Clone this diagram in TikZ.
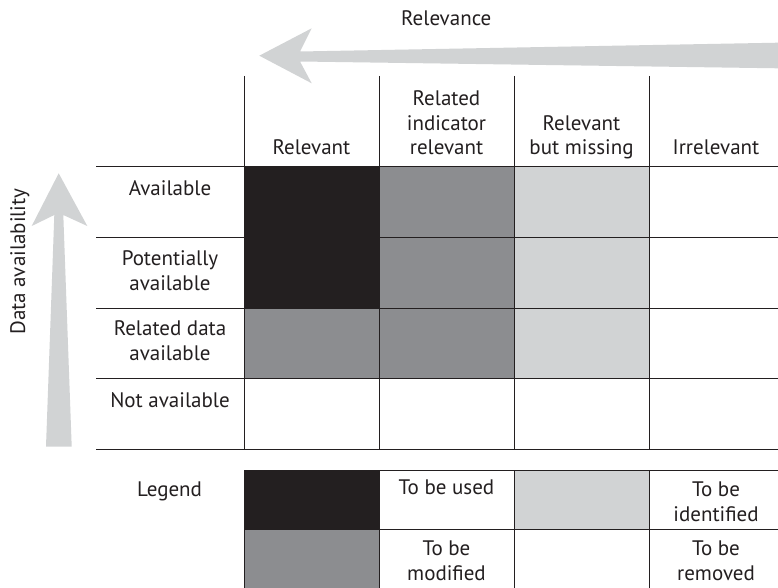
\documentclass[tikz,border=0pt]{standalone}
\usepackage{fontspec}
\setmainfont{PT Sans}
\definecolor{ink}{HTML}{231F20}
\definecolor{mgray}{HTML}{8C8D90}
\definecolor{lgray}{HTML}{D1D3D4}
\definecolor{agray}{HTML}{D1D3D4}
\begin{document}
\begin{tikzpicture}[x=1pt,y=-1pt,
  lbl/.style={font=\fontsize{21}{24.5}\selectfont, text=ink, inner sep=0pt, align=center, anchor=base},
  gridline/.style={draw=ink, line width=1pt},
  bigarrow/.style={fill=agray, draw=none}]
\useasboundingbox (0,0) rectangle (778,588);
\fill[white] (0,0) rectangle (778,588);
% cell fills
\fill[ink] (244,166.7) rectangle (379,308);
\fill[mgray] (244,308) rectangle (379,378.7);
\fill[mgray] (379,166.7) rectangle (514,378.7);
\fill[lgray] (514,166.7) rectangle (649,378.7);
% legend fills
\fill[ink] (244,470) rectangle (379,529);
\fill[mgray] (244,529) rectangle (379,588);
\fill[lgray] (514,470) rectangle (649,529);
% grid lines
\foreach \y in {166.7,237.7,308,378.7,449} \draw[gridline] (96,\y) -- (778,\y);
\foreach \x in {244,379,514,649} \draw[gridline] (\x,76) -- (\x,449);
\foreach \y in {470,529} \draw[gridline] (244,\y) -- (778,\y);
\foreach \x in {244,379,514,649} \draw[gridline] (\x,470) -- (\x,588);
% arrows
\fill[bigarrow] (259.3,55.7) -- (311.7,28.3) -- (300,51.5) -- (778,42.7) -- (778,68.3) -- (300,61.5) -- (311.7,83.3) -- cycle;
\fill[bigarrow] (58.7,173.3) -- (31.7,226) -- (54.3,215) -- (46,446.7) -- (71.7,446.7) -- (63.3,215) -- (87.3,226) -- cycle;
% texts (base anchor = baseline of the last line)
\node[lbl] (relevance) at (446.3,25.7) {Relevance};
\node[lbl, rotate=90] (dataavail) at (25,261.7) {Data availability};
\node[lbl] (h1) at (311.5,155) {Relevant};
\node[lbl] (h2) at (446.5,155) {Related\\indicator\\relevant};
\node[lbl] (h3) at (581.5,155) {Relevant\\but missing};
\node[lbl] (h4) at (716,155) {Irrelevant};
\node[lbl] (r1) at (170,195) {Available};
\node[lbl] (r2) at (170,290) {Potentially\\available};
\node[lbl] (r3) at (170,360) {Related data\\available};
\node[lbl] (r4) at (170,407) {Not available};
\node[lbl] (legend) at (169.6,496.7) {Legend};
\node[lbl] (used) at (446.5,494.5) {To be used};
\node[lbl] (identified) at (716,521) {To be\\identified};
\node[lbl] (modified) at (446.5,580) {To be\\modified};
\node[lbl] (removed) at (716,580) {To be\\removed};
\end{tikzpicture}
\end{document}
